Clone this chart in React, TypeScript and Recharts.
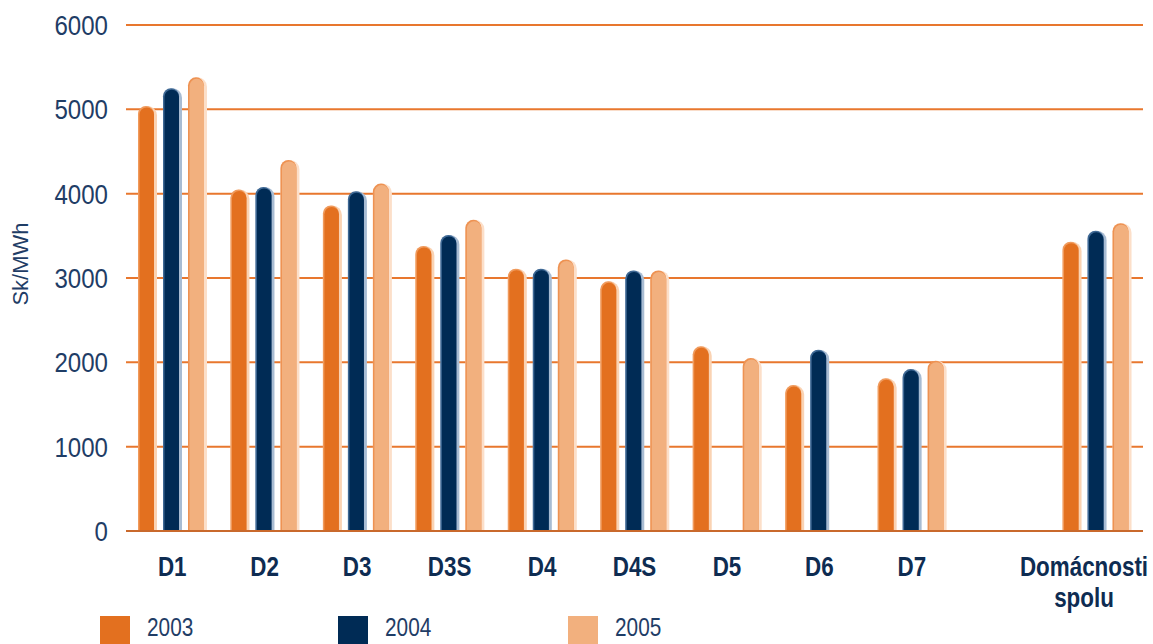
import React from 'react';
import { BarChart, Bar, XAxis, YAxis, CartesianGrid } from 'recharts';

const categories = ['D1', 'D2', 'D3', 'D3S', 'D4', 'D4S', 'D5', 'D6', 'D7', '', 'Domácnosti spolu'];
const values2003 = [5040, 4050, 3860, 3380, 3110, 2960, 2190, 1730, 1810, null, 3430];
const values2004 = [5250, 4080, 4030, 3510, 3110, 3090, null, 2150, 1920, null, 3560];
const values2005 = [5380, 4400, 4120, 3690, 3220, 3090, 2050, null, 2020, null, 3650];
const yTicks = [0, 1000, 2000, 3000, 4000, 5000, 6000];

const series = [
  { key: 'y2003', name: '2003', main: '#E3701F', rimL: '#F09A5C', rimR: '#FAD3B3' },
  { key: 'y2004', name: '2004', main: '#002B55', rimL: '#3E6894', rimR: '#A8BCD3' },
  { key: 'y2005', name: '2005', main: '#F2B07E', rimL: '#EE9252', rimR: '#FCDFC9' },
];

const data = categories.map((name, i) => ({
  name,
  y2003: values2003[i],
  y2004: values2004[i],
  y2005: values2005[i],
}));

// no narrow font installed, so squeeze Liberation Sans horizontally
const FONT = '"Liberation Sans", Arial, sans-serif';
const NAVY = '#1F3D66';
const GRID = '#E8772E';
const CHART_W = 1153;

const pill = (x: number, y: number, w: number, h: number) => {
  const r = w / 2;
  return `M${x},${y + h} L${x},${y + r} A${r},${r} 0 0 1 ${x + w},${y + r} L${x + w},${y + h} Z`;
};

const makeShape = (s: typeof series[number]) => (props: any) => {
  const { x, y, width, height } = props;
  if (!height || height <= 0) return null;
  return (
    <g>
      <path d={pill(x, y, width, height)} fill={s.rimR} />
      <path d={pill(x, y, width - 3, height)} fill={s.rimL} />
      <path d={pill(x + 1.5, y + 1.5, width - 4.5, height - 1.5)} fill={s.main} />
    </g>
  );
};

const YTick = (props: any) => {
  const { x, y, payload } = props;
  return (
    <g transform={`translate(${x},${y}) scale(0.86,1)`}>
      <text x={0} y={0} dy={10} textAnchor="end" fill={NAVY} fontFamily={FONT} fontSize={28}>
        {payload.value}
      </text>
    </g>
  );
};

const XTick = (props: any) => {
  const { x, y, payload } = props;
  const words = String(payload.value).split(' ');
  // keep long labels inside the picture
  const longest = Math.max(...words.map((w) => w.length));
  const half = (longest * 12.6) / 2;
  const cx = Math.min(x, CHART_W - 6 - half);
  return (
    <g transform={`translate(${cx},${y}) scale(0.8,1)`}>
      <text x={0} y={0} textAnchor="middle" fill="#0E2C52" fontFamily={FONT} fontSize={28} fontWeight="bold">
        {words.map((w, i) => (
          <tspan key={i} x={0} dy={i === 0 ? 43 : 31}>
            {w}
          </tspan>
        ))}
      </text>
    </g>
  );
};

const YLabel = (props: any) => {
  const { viewBox } = props;
  const cy = viewBox.y + viewBox.height / 2 - 14;
  return (
    <text
      x={0}
      y={0}
      transform={`translate(28,${cy}) rotate(-90)`}
      textAnchor="middle"
      fill={NAVY}
      fontFamily={FONT}
      fontSize={22}
    >
      Sk/MWh
    </text>
  );
};

export default function App() {
  return (
    <div style={{ position: 'absolute', left: 0, top: 0, width: CHART_W, height: 644, background: '#fff', overflow: 'hidden' }}>
      <BarChart
        width={CHART_W}
        height={644}
        data={data}
        margin={{ top: 25, right: 10, bottom: 0, left: 0 }}
        barSize={19}
        barGap={6}
      >
        <CartesianGrid vertical={false} stroke={GRID} strokeWidth={2} />
        <XAxis
          dataKey="name"
          height={113}
          interval={0}
          tickLine={false}
          tickSize={0}
          axisLine={{ stroke: '#C9692C', strokeWidth: 2 }}
          tick={<XTick />}
        />
        <YAxis
          width={126}
          domain={[0, 6000]}
          ticks={yTicks}
          axisLine={false}
          tickLine={false}
          tickSize={0}
          tickMargin={18}
          tick={<YTick />}
          label={<YLabel />}
        />
        {series.map((s) => (
          <Bar key={s.key} dataKey={s.key} name={s.name} shape={makeShape(s)} isAnimationActive={false} />
        ))}
      </BarChart>
      {series.map((s, i) => (
        <div
          key={s.key}
          style={{ position: 'absolute', top: 613, left: [100, 338, 568][i], display: 'flex', alignItems: 'flex-start' }}
        >
          <div style={{ width: 30, height: 30, background: s.main, marginTop: 3 }} />
          <span
            style={{
              marginLeft: 17,
              fontFamily: FONT,
              fontSize: 26,
              color: NAVY,
              lineHeight: '28px',
              display: 'inline-block',
              transform: 'scaleX(0.8)',
              transformOrigin: 'left center',
            }}
          >
            {s.name}
          </span>
        </div>
      ))}
    </div>
  );
}
